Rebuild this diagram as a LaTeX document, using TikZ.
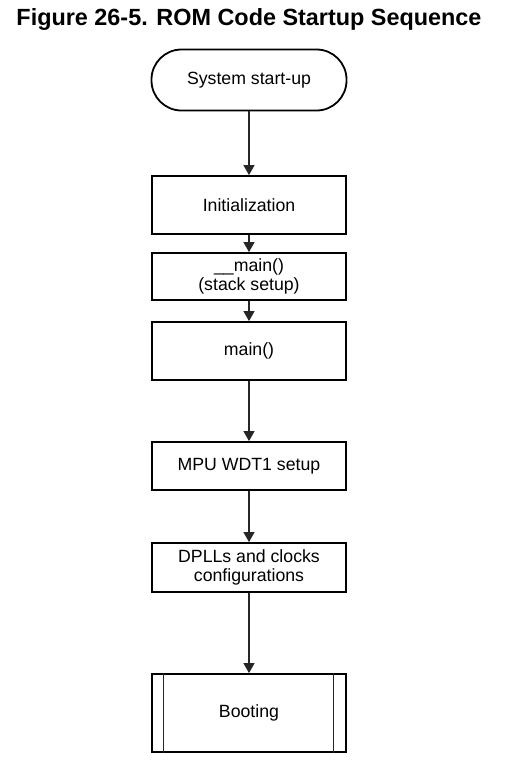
\documentclass[tikz,border=0pt]{standalone}
\usepackage{fontspec}
\setmainfont{Liberation Sans}
\usetikzlibrary{arrows.meta}
\begin{document}
\begin{tikzpicture}[x=1pt,y=-1pt,
  box/.style={draw=black,line width=1.8pt,minimum width=194pt,inner sep=0pt,align=center,
    font=\fontsize{17.7}{19.8}\selectfont},
  term/.style={box,rounded corners=30pt,minimum width=195pt,minimum height=61pt},
  flow/.style={draw=black!85,line width=1.1pt,-{Triangle[length=10pt,width=11pt]}},
  sub/.style={draw=black!85,line width=1pt}]
\useasboundingbox (0,0) rectangle (506,772);
\node[anchor=base,font=\bfseries\fontsize{23.4}{28}\selectfont] (title) at (249,25) {Figure 26-5. ROM Code Startup Sequence};
\node[term] (start) at (249,80) {System start-up};
\node[box,minimum height=58pt] (init) at (249,205) {Initialization};
\node[box,minimum height=47pt] (smain) at (249,276.5) {\_\_main()\\(stack setup)};
\node[box,minimum height=58pt] (main) at (249,351) {main()};
\node[box,minimum height=48pt] (mpu) at (249,466) {MPU WDT1 setup};
\node[box,minimum height=49pt] (dpll) at (249,567.5) {DPLLs and clocks\\configurations};
\node[box,minimum height=78pt] (boot) at (249,713) {Booting};
\draw[sub] ([xshift=12pt]boot.north west) -- ([xshift=12pt]boot.south west);
\draw[sub] ([xshift=-13pt]boot.north east) -- ([xshift=-13pt]boot.south east);
\draw[flow] (start) -- (init);
\draw[flow] (init) -- (smain);
\draw[flow] (smain) -- (main);
\draw[flow] (main) -- (mpu);
\draw[flow] (mpu) -- (dpll);
\draw[flow] (dpll) -- (boot);
\end{tikzpicture}
\end{document}
